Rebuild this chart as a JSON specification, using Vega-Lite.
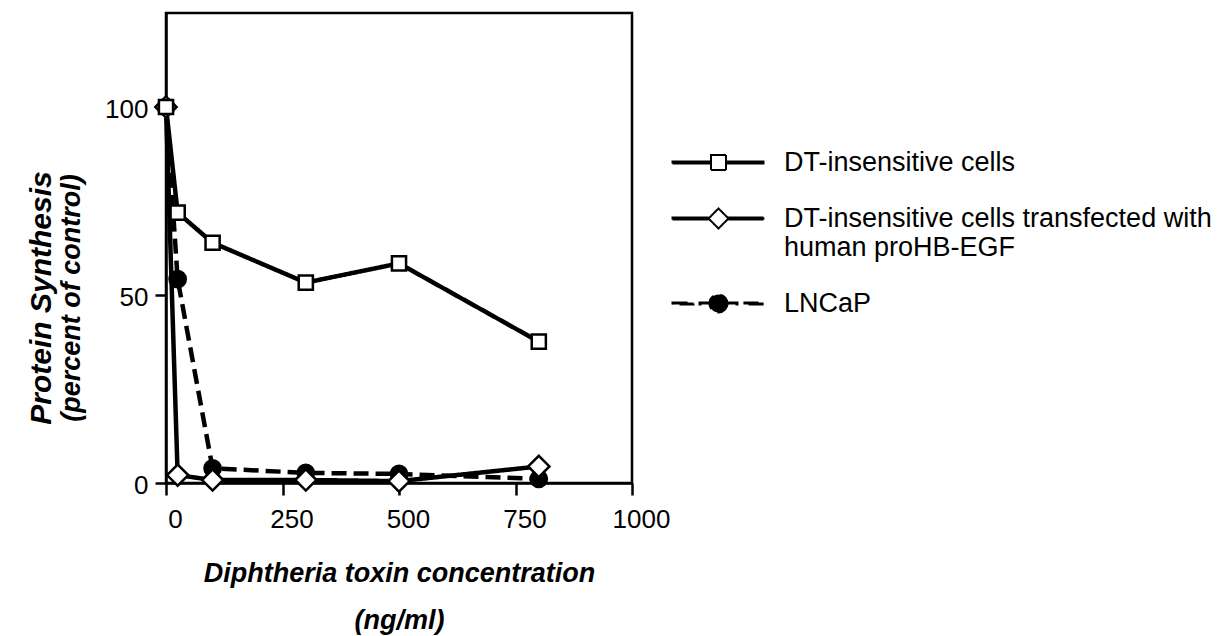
{
  "$schema": "https://vega.github.io/schema/vega-lite/v6.json",
  "width": 466,
  "height": 470,
  "autosize": {"type": "none"},
  "padding": {"left": 166, "top": 13, "right": 596, "bottom": 153},
  "background": "white",
  "config": {
    "font": "Liberation Sans",
    "view": {"stroke": "black", "strokeWidth": 2.5},
    "axis": {
      "grid": false,
      "domainColor": "black",
      "domainWidth": 2.5,
      "tickColor": "black",
      "tickWidth": 2.5,
      "labelFont": "Liberation Sans",
      "labelFontSize": 26,
      "labelColor": "black",
      "labelFlush": false,
      "labelOverlap": false
    }
  },
  "title": {
    "text": "Protein Synthesis",
    "subtitle": "(percent of control)",
    "orient": "left",
    "anchor": "middle",
    "font": "Liberation Sans",
    "fontSize": 30,
    "fontWeight": "bold",
    "fontStyle": "italic",
    "color": "black",
    "subtitleFont": "Liberation Sans",
    "subtitleFontSize": 27,
    "subtitleFontWeight": "bold",
    "subtitleFontStyle": "italic",
    "subtitleColor": "black",
    "subtitlePadding": 2,
    "offset": 20,
    "dx": -50
  },
  "data": {
    "values": [
      {"series": "LNCaP", "dose": 0, "synthesis": 100},
      {"series": "LNCaP", "dose": 25, "synthesis": 54.2},
      {"series": "LNCaP", "dose": 100, "synthesis": 3.9},
      {"series": "LNCaP", "dose": 300, "synthesis": 2.7},
      {"series": "LNCaP", "dose": 500, "synthesis": 2.4},
      {"series": "LNCaP", "dose": 800, "synthesis": 1.1},
      {"series": "DT-insensitive cells transfected with human proHB-EGF", "dose": 0, "synthesis": 100},
      {"series": "DT-insensitive cells transfected with human proHB-EGF", "dose": 25, "synthesis": 2.1},
      {"series": "DT-insensitive cells transfected with human proHB-EGF", "dose": 100, "synthesis": 0.8},
      {"series": "DT-insensitive cells transfected with human proHB-EGF", "dose": 300, "synthesis": 0.8},
      {"series": "DT-insensitive cells transfected with human proHB-EGF", "dose": 500, "synthesis": 0.5},
      {"series": "DT-insensitive cells transfected with human proHB-EGF", "dose": 800, "synthesis": 4.4},
      {"series": "DT-insensitive cells", "dose": 0, "synthesis": 100},
      {"series": "DT-insensitive cells", "dose": 25, "synthesis": 71.9},
      {"series": "DT-insensitive cells", "dose": 100, "synthesis": 63.9},
      {"series": "DT-insensitive cells", "dose": 300, "synthesis": 53.3},
      {"series": "DT-insensitive cells", "dose": 500, "synthesis": 58.4},
      {"series": "DT-insensitive cells", "dose": 800, "synthesis": 37.6}
    ]
  },
  "encoding": {
    "x": {
      "field": "dose",
      "type": "quantitative",
      "scale": {"domain": [0, 1000], "nice": false, "zero": false},
      "axis": {
        "values": [0, 250, 500, 750, 1000],
        "format": "d",
        "tickSize": 12,
        "labelOffset": 9,
        "labelPadding": 11,
        "title": ["Diphtheria toxin concentration", "(ng/ml)"],
        "titleFont": "Liberation Sans",
        "titleFontSize": 27,
        "titleFontWeight": "bold",
        "titleFontStyle": "italic",
        "titleColor": "black",
        "titleLineHeight": 47,
        "titlePadding": 28
      }
    },
    "y": {
      "field": "synthesis",
      "type": "quantitative",
      "scale": {"domain": [0, 125], "nice": false},
      "axis": {
        "values": [0, 50, 100],
        "tickSize": 11,
        "labelPadding": 7,
        "labelOffset": 2,
        "title": null
      }
    }
  },
  "layer": [
    {
      "mark": {"type": "line", "color": "black", "strokeWidth": 4.5},
      "encoding": {
        "detail": {"field": "series", "type": "nominal"},
        "strokeDash": {
          "field": "series",
          "type": "nominal",
          "scale": {
            "domain": ["DT-insensitive cells", "DT-insensitive cells transfected with human proHB-EGF", "LNCaP"],
            "range": [[1, 0], [1, 0], [15, 7]]
          },
          "legend": {
            "orient": "none",
            "legendX": 539,
            "legendY": 136,
            "title": null,
            "labelFont": "Liberation Sans",
            "labelFontSize": 27,
            "labelColor": "black",
            "labelLimit": 600,
            "labelOffset": 52,
            "rowPadding": 28,
            "symbolSize": 400,
            "symbolStrokeWidth": 2,
            "symbolStrokeColor": "black",
            "labelExpr": "datum.label === 'DT-insensitive cells transfected with human proHB-EGF' ? ['DT-insensitive cells transfected with', 'human proHB-EGF'] : datum.label",
            "encode": {
              "symbols": {
                "update": {
                  "shape": [
                    {"test": "datum.value === 'LNCaP'", "value": "M-4.6,-0.1H-2.5V0.1H-4.6Z M-1.9,-0.1H-0.8V0.1H-1.9Z M0.8,-0.1H1.9V0.1H0.8Z M2.5,-0.1H4.5V0.1H2.5Z M0.9,0A0.9,0.9 0 1,1 -0.9,0A0.9,0.9 0 1,1 0.9,0Z"},
                    {"test": "datum.value === 'DT-insensitive cells'", "value": "M-4.6,-0.1H-0.75V0.1H-4.6Z M0.75,-0.1H4.5V0.1H0.75Z M-0.75,-0.75H0.75V0.75H-0.75Z"},
                    {"value": "M-4.6,-0.1H-1V0.1H-4.6Z M1,-0.1H4.5V0.1H1Z M0,-1L1,0L0,1L-1,0Z"}
                  ],
                  "fill": [
                    {"test": "datum.value === 'LNCaP'", "value": "black"},
                    {"value": "white"}
                  ],
                  "stroke": {"value": "black"},
                  "strokeWidth": {"value": 2},
                  "strokeDash": {"value": [1, 0]},
                  "opacity": {"value": 1}
                }
              }
            }
          }
        }
      }
    },
    {
      "transform": [{"filter": "datum.series === 'LNCaP'"}],
      "mark": {"type": "point", "shape": "circle", "filled": true, "fill": "black", "stroke": "black", "strokeWidth": 2, "size": 280, "opacity": 1}
    },
    {
      "transform": [{"filter": "datum.series === 'DT-insensitive cells transfected with human proHB-EGF'"}],
      "mark": {"type": "point", "shape": "diamond", "filled": true, "fill": "white", "stroke": "black", "strokeWidth": 2.5, "size": 450, "opacity": 1}
    },
    {
      "transform": [{"filter": "datum.series === 'DT-insensitive cells'"}],
      "mark": {"type": "point", "shape": "square", "filled": true, "fill": "white", "stroke": "black", "strokeWidth": 2.5, "size": 200, "opacity": 1}
    }
  ]
}
